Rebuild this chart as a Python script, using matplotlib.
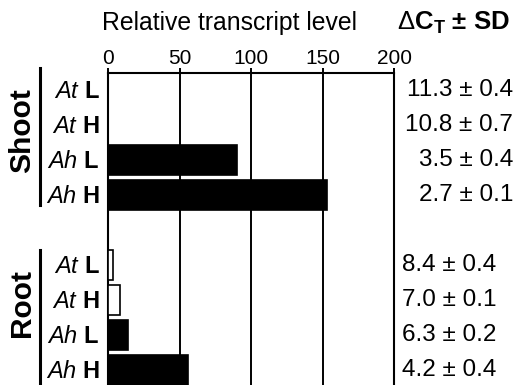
import matplotlib
matplotlib.use("Agg")
import matplotlib.pyplot as plt
import matplotlib.transforms as mtrans
from matplotlib.lines import Line2D

plt.rcParams['font.family'] = ['Liberation Sans', 'DejaVu Sans']
plt.rcParams['mathtext.fontset'] = 'custom'
plt.rcParams['mathtext.rm'] = 'Liberation Sans'
plt.rcParams['mathtext.it'] = 'Liberation Sans:italic'
plt.rcParams['mathtext.bf'] = 'Liberation Sans:bold'

# ---- data ----
species = ['At', 'At', 'Ah', 'Ah']
conditions = ['L', 'H', 'L', 'H']
shoot_values = [0, 0, 90, 153]
root_values = [3.3, 8.4, 14, 56]
shoot_dct = ['11.3 ± 0.4', '10.8 ± 0.7', '3.5 ± 0.4', '2.7 ± 0.1']
root_dct = ['8.4 ± 0.4', '7.0 ± 0.1', '6.3 ± 0.2', '4.2 ± 0.4']
bar_colors = ['white', 'white', 'black', 'black']
xticks = [0, 50, 100, 150, 200]

W, H = 517, 385
fig = plt.figure(figsize=(W / 100, H / 100), dpi=100)

def fx(x):
    return x / W

def fy(y):
    return 1 - y / H

top_px = 73.3
ax = fig.add_axes([fx(108), 0, fx(394) - fx(108), fy(top_px)])

shoot_pos = [0, 1, 2, 3]
root_pos = [5, 6, 7, 8]

ax.barh(shoot_pos, shoot_values, height=0.86, color=bar_colors,
        edgecolor='black', linewidth=1.2, zorder=3)
ax.barh(root_pos, root_values, height=0.86, color=bar_colors,
        edgecolor='black', linewidth=1.2, zorder=3)

ax.set_xlim(0, 200)
ax.set_ylim(8.429, -0.477)
ax.xaxis.tick_top()
ax.set_xticks(xticks)
ax.set_xticklabels([str(t) for t in xticks], fontsize=15)
ax.tick_params(axis='x', direction='out', length=3.5, width=1.4, pad=0.5)
for t in [50, 100, 150]:
    ax.axvline(t, color='black', linewidth=1.4, zorder=2)

labels = [r'$\mathit{%s}$ $\mathbf{%s}$' % (s, c) for s, c in zip(species, conditions)]
ax.set_yticks(shoot_pos + root_pos)
ax.set_yticklabels(labels + labels, fontsize=17)
ax.tick_params(axis='y', length=0, pad=6)

for sp in ['left', 'right', 'top']:
    ax.spines[sp].set_linewidth(1.5)
ax.spines['bottom'].set_visible(False)

# delta CT values
tr = mtrans.blended_transform_factory(fig.transFigure, ax.transData)
for p, txt in zip(shoot_pos, shoot_dct):
    ax.text(fx(513), p, txt, transform=tr, ha='right', va='center', fontsize=17.5,
            clip_on=False)
for p, txt in zip(root_pos, root_dct):
    ax.text(fx(402), p, txt, transform=tr, ha='left', va='center', fontsize=17.5,
            clip_on=False)

# headers
fig.text(fx(102), fy(23), 'Relative transcript level', ha='left', va='center', fontsize=17.8)
fig.text(fx(397), fy(23), r'$\Delta$C$_\mathbf{T}$ ± SD', ha='left', va='center',
         fontsize=18.5, fontweight='bold')

# group brackets and labels
fig.add_artist(Line2D([fx(40), fx(40)], [fy(68), fy(205)], color='black', linewidth=2.2))
fig.add_artist(Line2D([fx(40), fx(40)], [fy(250), fy(390)], color='black', linewidth=2.2))
fig.text(fx(22), fy(131), 'Shoot', rotation=90, ha='center', va='center',
         fontsize=21.5, fontweight='bold')
fig.text(fx(22), fy(303), 'Root', rotation=90, ha='center', va='center',
         fontsize=21.5, fontweight='bold')

fig.savefig('out.png', dpi=100)
